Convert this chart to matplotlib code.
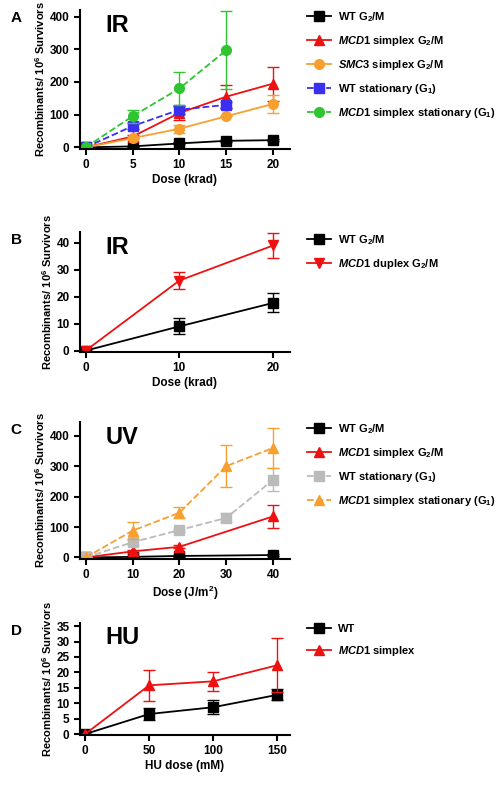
import matplotlib
matplotlib.use("Agg")
import matplotlib.pyplot as plt

plt.rcParams["font.family"] = "Liberation Sans"
plt.rcParams["font.weight"] = "bold"
plt.rcParams["mathtext.fontset"] = "custom"
plt.rcParams["mathtext.rm"] = "Liberation Sans:bold"
plt.rcParams["mathtext.it"] = "Liberation Sans:bold:italic"
plt.rcParams["axes.linewidth"] = 1.5

# ---- Panel A (IR) ----
a_dose = [0, 5, 10, 15, 20]
a_wt = [0, 3, 12, 20, 22]
a_wt_err = [0, 2, 3, 3, 3]
a_mcd1 = [0, 33, 105, 155, 195]
a_mcd1_err = [0, 5, 22, 35, 52]
a_smc3 = [0, 28, 57, 95, 133]
a_smc3_err = [0, 3, 12, 0, 27]
a_dose_st = [0, 5, 10, 15]
a_wt_st = [0, 65, 115, 130]
a_wt_st_err = [0, 10, 12, 10]
a_mcd1_st = [0, 95, 180, 297]
a_mcd1_st_err = [0, 20, 50, 120]

# ---- Panel B (IR) ----
b_dose = [0, 10, 20]
b_wt = [0, 9, 17.7]
b_wt_err = [0, 3, 3.5]
b_mcd1 = [0, 26, 39]
b_mcd1_err = [0, 3.2, 4.8]

# ---- Panel C (UV) ----
c_dose4 = [0, 10, 20, 40]
c_wt = [0, 2, 5, 8]
c_wt_err = [0, 2, 2, 3]
c_mcd1 = [0, 20, 35, 135]
c_mcd1_err = [0, 5, 5, 38]
c_dose5 = [0, 10, 20, 30, 40]
c_wt_st = [0, 50, 90, 130, 255]
c_wt_st_err = [0, 8, 5, 15, 38]
c_mcd1_st = [0, 88, 147, 300, 360]
c_mcd1_st_err = [0, 28, 18, 70, 65]

# ---- Panel D (HU) ----
d_dose = [0, 50, 100, 150]
d_wt = [0, 6.5, 8.7, 12.7]
d_wt_err = [0, 2.0, 2.3, 1.8]
d_mcd1 = [0, 15.8, 17.1, 22.3]
d_mcd1_err = [0, 5.0, 3.0, 8.8]

BLACK = "black"
RED = "#ee1111"
ORANGE = "#f7a030"
BLUE = "#3a2ff0"
GREEN = "#2ec52e"
GREY = "#bbbbbb"
YLAB = "Recombinants/ 10$^6$ Survivors"

W, H = 499, 800
fig = plt.figure(figsize=(W / 100, H / 100), dpi=100)


def px_axes(left, top, right, bottom):
    return fig.add_axes([left / W, 1 - bottom / H, (right - left) / W, (bottom - top) / H])


def series(ax, x, y, err, color, marker, label, dashed=False, ms=7):
    ls = "--" if dashed else "-"
    ax.errorbar(x, y, yerr=err, fmt="none", ecolor=color, capsize=4, elinewidth=1)
    ax.plot(x, y, color=color, marker=marker, ms=ms, lw=1.3, ls=ls, label=label)


def style(ax, xlabel, title, letter):
    ax.spines["top"].set_visible(False)
    ax.spines["right"].set_visible(False)
    ax.tick_params(width=1.5, length=4, labelsize=8.5)
    ax.set_xlabel(xlabel, fontsize=8.5, fontweight="bold", labelpad=2)
    ax.set_ylabel(YLAB, fontsize=8, fontweight="bold", labelpad=2)
    ax.text(0.12, 0.97, title, transform=ax.transAxes, fontsize=17, fontweight="bold", va="top")
    ax.text(-0.33, 0.99, letter, transform=ax.transAxes, fontsize=11, fontweight="bold", va="top")
    ax.legend(loc="upper left", bbox_to_anchor=(1.06, 1.03), frameon=False, fontsize=8,
              handlelength=2.2, handletextpad=0.6, labelspacing=0.9, borderaxespad=0)


# A
ax = px_axes(80, 10, 290, 149)
series(ax, a_dose, a_wt, a_wt_err, BLACK, "s", r"WT G$_2$/M")
series(ax, a_dose, a_mcd1, a_mcd1_err, RED, "^", r"$\it{MCD1}$ simplex G$_2$/M")
series(ax, a_dose, a_smc3, a_smc3_err, ORANGE, "o", r"$\it{SMC3}$ simplex G$_2$/M")
series(ax, a_dose_st, a_wt_st, a_wt_st_err, BLUE, "s", r"WT stationary (G$_1$)", dashed=True)
series(ax, a_dose_st, a_mcd1_st, a_mcd1_st_err, GREEN, "o", r"$\it{MCD1}$ simplex stationary (G$_1$)", dashed=True)
ax.set_xlim(-0.6, 21.8)
ax.set_ylim(-5, 420)
ax.set_xticks(a_dose)
ax.set_yticks([0, 100, 200, 300, 400])
style(ax, "Dose (krad)", "IR", "A")

# B
ax = px_axes(80, 232, 290, 352)
series(ax, b_dose, b_wt, b_wt_err, BLACK, "s", r"WT G$_2$/M")
series(ax, b_dose, b_mcd1, b_mcd1_err, RED, "v", r"$\it{MCD1}$ duplex G$_2$/M")
ax.set_xlim(-0.6, 21.8)
ax.set_ylim(-0.5, 44)
ax.set_xticks([0, 10, 20])
ax.set_yticks([0, 10, 20, 30, 40])
style(ax, "Dose (krad)", "IR", "B")

# C
ax = px_axes(80, 422, 290, 559)
series(ax, c_dose4, c_wt, c_wt_err, BLACK, "s", r"WT G$_2$/M")
series(ax, c_dose4, c_mcd1, c_mcd1_err, RED, "^", r"$\it{MCD1}$ simplex G$_2$/M")
series(ax, c_dose5, c_wt_st, c_wt_st_err, GREY, "s", r"WT stationary (G$_1$)", dashed=True)
series(ax, c_dose5, c_mcd1_st, c_mcd1_st_err, ORANGE, "^", r"$\it{MCD1}$ simplex stationary (G$_1$)", dashed=True)
ax.set_xlim(-1.2, 43.6)
ax.set_ylim(-5, 445)
ax.set_xticks(c_dose5)
ax.set_yticks([0, 100, 200, 300, 400])
style(ax, "Dose (J/m$^2$)", "UV", "C")

# D
ax = px_axes(80, 623, 290, 735)
series(ax, d_dose, d_wt, d_wt_err, BLACK, "s", "WT")
series(ax, d_dose, d_mcd1, d_mcd1_err, RED, "^", r"$\it{MCD1}$ simplex")
ax.set_xlim(-4, 160)
ax.set_ylim(-0.3, 36)
ax.set_xticks(d_dose)
ax.set_yticks(range(0, 36, 5))
style(ax, "HU dose (mM)", "HU", "D")

fig.savefig("out.png", dpi=100)
